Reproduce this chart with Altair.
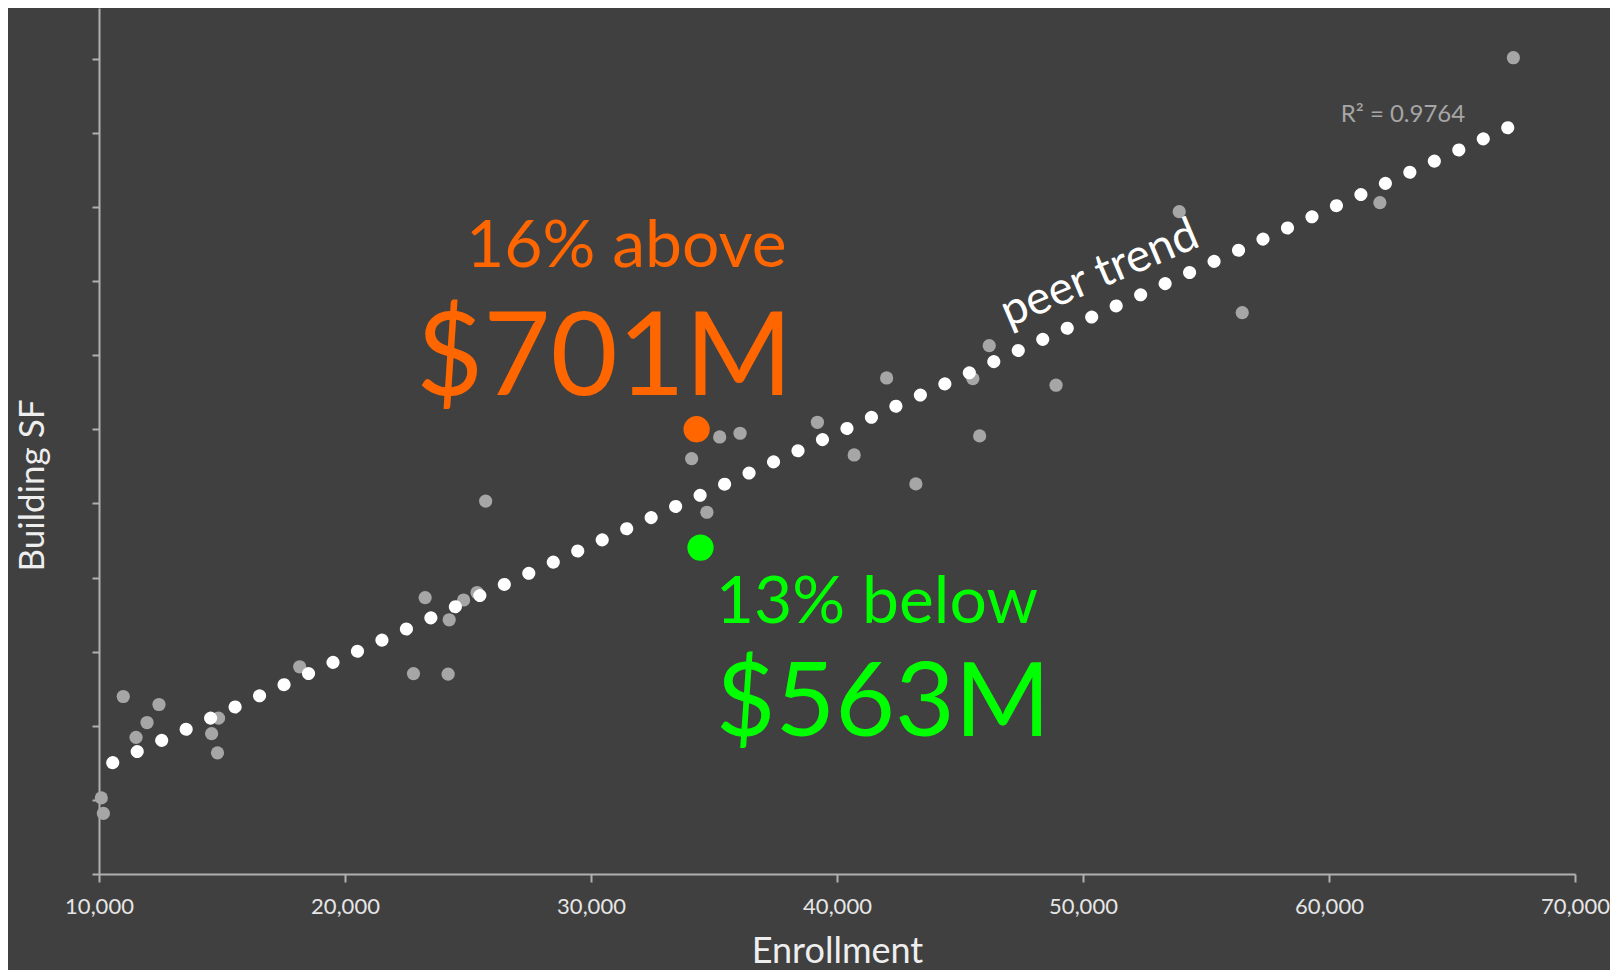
import altair as alt
import pandas as pd

# ---- data ----
enrollment = [10093, 10178, 10986, 11506, 11952, 12439, 14578, 14858, 14817, 18157,
              22784, 23258, 24192, 24236, 24821, 25369, 25718, 34091, 34711, 35231,
              36059, 39204, 40698, 42017, 43206, 45523, 45799, 46189, 48904, 53912,
              56473, 62069, 67495]
building_sf = [1027000, 818000, 2395000, 1844000, 2044000, 2287000, 1894000, 2103000, 1635000, 2796000,
               2704000, 3730000, 2696000, 3430000, 3697000, 3798000, 5032000, 5604000, 4881000, 5897000,
               5947000, 6095000, 5654000, 6693000, 5263000, 6684000, 5911000, 7129000, 6595000, 8937000,
               7574000, 9058000, 11014000]

trend_enrollment = [10556, 67267]
trend_sf = [1502000, 10070000]

above_enrollment = [34293]
above_sf = [6001000]
below_enrollment = [34451]
below_sf = [4404000]

x_ticks = [10000, 20000, 30000, 40000, 50000, 60000, 70000]
y_ticks = [0, 1000000, 2000000, 3000000, 4000000, 5000000, 6000000,
           7000000, 8000000, 9000000, 10000000, 11000000]

# annotation anchors (data coordinates)
ann_above = {"t1": "16% above", "t2": "$701M", "x1": 37950, "x2": 38200, "y1": 8195000, "y2": 6464000}
ann_below = {"t1": "13% below", "t2": "$563M", "x": 35069, "y1": 3392000, "y2": 1863000}
ann_r2 = {"t": "R\u00b2 = 0.9764", "x": 60475, "y": 10151000}
ann_trend = {"t": "peer trend", "x": 50680, "y": 8100000}

FONT = "Lato"
BG = "#404040"
AXIS_C = "#b0b0b0"
GRAY = "#a6a6a6"
ORANGE = "#ff6600"
GREEN = "#00ff00"

xs = alt.Scale(domain=[10000, 70000], nice=False, zero=False)
ys = alt.Scale(domain=[0, 11685000], nice=False, zero=False)

x_axis = alt.Axis(values=x_ticks, format=",.0f", grid=False, title="Enrollment",
                  domainColor=AXIS_C, domainWidth=2, tickColor=AXIS_C, tickWidth=2, tickSize=8,
                  labelFont=FONT, labelFontSize=22, labelColor="#e6e6e6", labelPadding=14,
                  labelFlush=False, labelOverlap=False,
                  titleFont=FONT, titleFontSize=36, titleFontWeight="normal", titleColor="#eeeeee",
                  titleBaseline="alphabetic", titleY=88.5, titleX=738, titleAlign="center", titleAnchor="middle")
y_axis = alt.Axis(values=y_ticks, labels=False, grid=False, title="Building SF",
                  domainColor=AXIS_C, domainWidth=2, tickColor=AXIS_C, tickWidth=2, tickSize=7,
                  titleFont=FONT, titleFontSize=35, titleFontWeight="normal", titleColor="#eeeeee",
                  titleBaseline="alphabetic", titleAngle=270, titleX=-55.7, titleY=477, titleAlign="center")

peers = pd.DataFrame({"Enrollment": enrollment, "SF": building_sf})
trend = pd.DataFrame({"Enrollment": trend_enrollment, "SF": trend_sf})
above = pd.DataFrame({"Enrollment": above_enrollment, "SF": above_sf})
below = pd.DataFrame({"Enrollment": below_enrollment, "SF": below_sf})

base_pts = alt.Chart(peers).mark_circle(size=175, color=GRAY, opacity=1).encode(
    x=alt.X("Enrollment:Q", scale=xs, axis=x_axis),
    y=alt.Y("SF:Q", scale=ys, axis=y_axis),
)

trend_line = alt.Chart(trend).mark_line(
    color="white", strokeWidth=13, strokeCap="round", strokeDash=[0.1, 26.79]
).encode(
    x=alt.X("Enrollment:Q", scale=xs),
    y=alt.Y("SF:Q", scale=ys),
)

above_pt = alt.Chart(above).mark_circle(size=690, color=ORANGE, opacity=1).encode(
    x=alt.X("Enrollment:Q", scale=xs), y=alt.Y("SF:Q", scale=ys))
below_pt = alt.Chart(below).mark_circle(size=690, color=GREEN, opacity=1).encode(
    x=alt.X("Enrollment:Q", scale=xs), y=alt.Y("SF:Q", scale=ys))


def txt(text, x, y, size, color, align, angle=0, baseline="alphabetic"):
    df = pd.DataFrame({"t": [text], "x": [x], "y": [y]})
    kw = dict(font=FONT, fontSize=size, color=color, align=align, baseline=baseline)
    if angle:
        kw["angle"] = angle
    return alt.Chart(df).mark_text(**kw).encode(
        x=alt.X("x:Q", scale=xs), y=alt.Y("y:Q", scale=ys), text="t:N")


texts = [
    txt(ann_above["t1"], ann_above["x1"], ann_above["y1"], 66, ORANGE, "right"),
    txt(ann_above["t2"], ann_above["x2"], ann_above["y2"], 116, ORANGE, "right"),
    txt(ann_below["t1"], ann_below["x"], ann_below["y1"], 66, GREEN, "left"),
    txt(ann_below["t2"], ann_below["x"], ann_below["y2"], 103, GREEN, "left"),
    txt(ann_r2["t"], ann_r2["x"], ann_r2["y"], 24, GRAY, "left"),
    txt(ann_trend["t"], ann_trend["x"], ann_trend["y"], 46, "white", "center", angle=337, baseline="middle"),
]

chart = alt.layer(base_pts, trend_line, above_pt, below_pt, *texts).properties(
    width=1476, height=866,
    padding={"left": 91, "top": 0, "right": 35, "bottom": 96},
    autosize=alt.AutoSizeParams(type="none"),
    background=BG,
).configure_view(stroke=None)

chart.save("out.html", embed_options={"renderer": "svg", "actions": False})
